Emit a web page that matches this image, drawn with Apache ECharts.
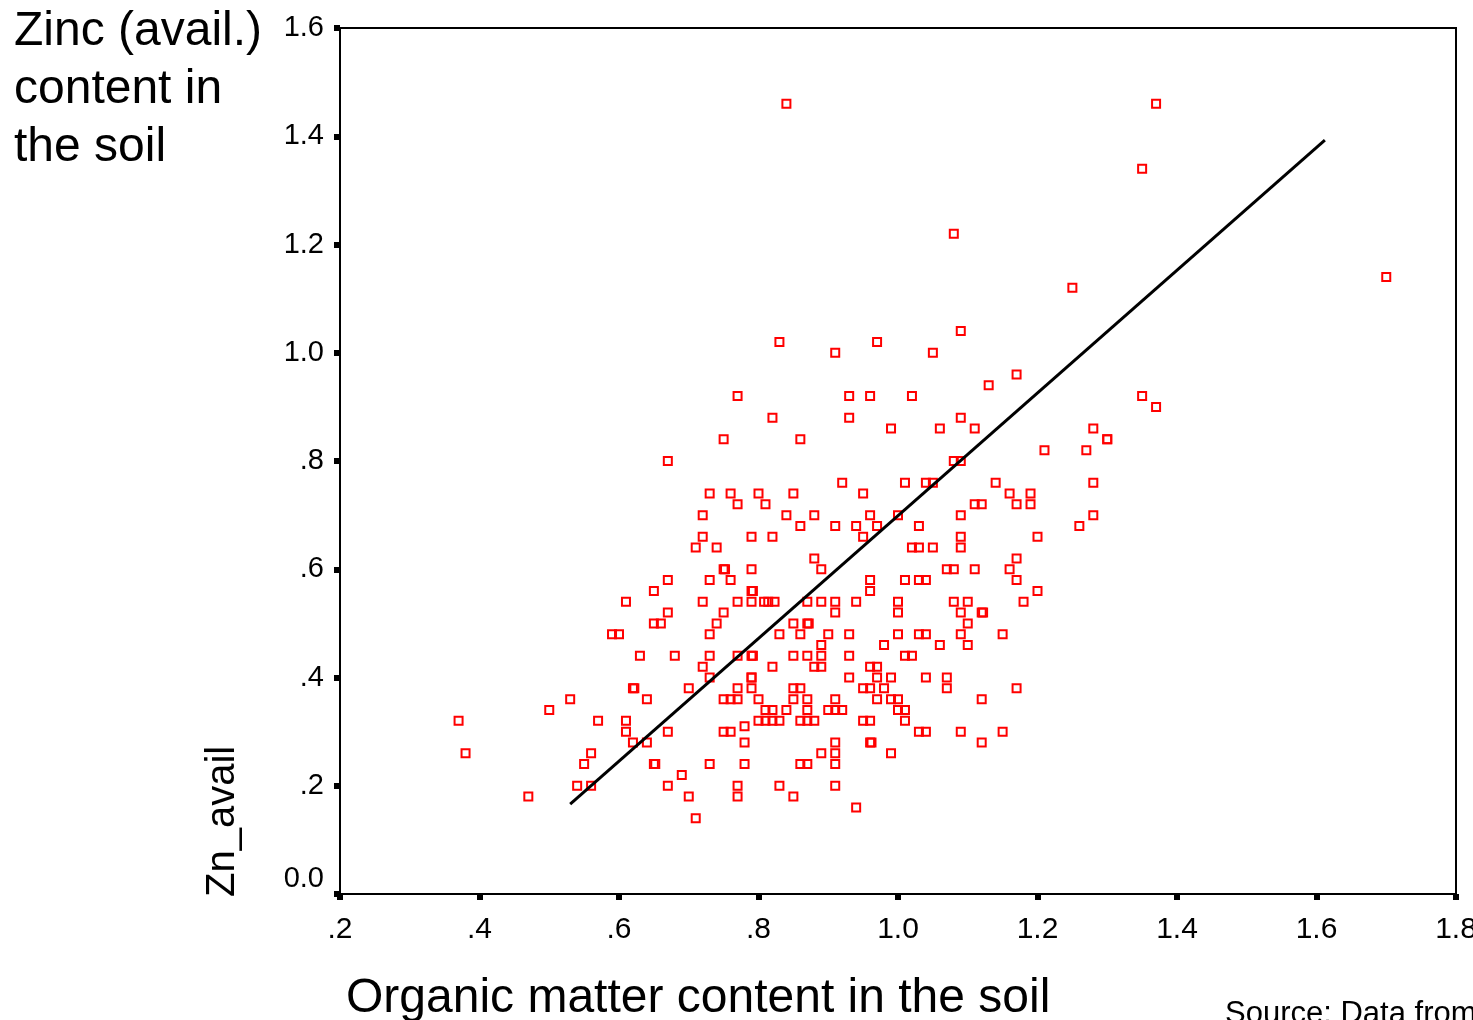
<!DOCTYPE html>
<html>
<head>
<meta charset="utf-8">
<title>Zinc vs organic matter</title>
<script src="https://cdn.jsdelivr.net/npm/echarts@6/dist/echarts.min.js"></script>
<style>
  html, body { margin: 0; padding: 0; background: #fff; overflow: hidden; }
  #chart { width: 1473px; height: 1020px; }
</style>
</head>
<body>
<div id="chart"></div>
<script>
// Zn_avail level -> organic matter values of the points on that level
const znLevels = [
  1.46, 1.34, 1.22, 1.14, 1.12, 1.04, 1.02, 1.00, 0.96, 0.94, 0.92, 0.90, 0.88, 0.86, 0.84, 0.82, 0.80,
  0.76, 0.74, 0.72, 0.70, 0.68, 0.66, 0.64, 0.62, 0.60, 0.58, 0.56, 0.54, 0.52, 0.50, 0.48, 0.46,
  0.44, 0.42, 0.40, 0.38, 0.36, 0.34, 0.32, 0.31, 0.30, 0.28, 0.26, 0.24, 0.22, 0.20, 0.18, 0.16, 0.14
]
const omByLevel = [
  [0.84, 1.37],
  [1.35],
  [1.08],
  [1.70],
  [1.25],
  [1.09],
  [0.83, 0.97],
  [0.91, 1.05],
  [1.17],
  [1.13],
  [0.77, 0.93, 0.96, 1.02, 1.35],
  [1.37],
  [0.82, 0.93, 1.09],
  [0.99, 1.06, 1.11, 1.28],
  [0.75, 0.86, 1.30, 1.30],
  [1.21, 1.27],
  [0.67, 1.08, 1.09],
  [0.92, 1.01, 1.04, 1.05, 1.14, 1.28],
  [0.73, 0.76, 0.80, 0.85, 0.95, 1.16, 1.19],
  [0.77, 0.81, 1.11, 1.12, 1.17, 1.19],
  [0.72, 0.84, 0.88, 0.96, 1.00, 1.09, 1.28],
  [0.86, 0.91, 0.94, 0.97, 1.03, 1.26],
  [0.72, 0.79, 0.82, 0.95, 1.09, 1.20],
  [0.71, 0.74, 1.02, 1.03, 1.05, 1.09],
  [0.88, 1.17],
  [0.75, 0.752, 0.79, 0.89, 1.07, 1.08, 1.11, 1.16],
  [0.67, 0.73, 0.76, 0.96, 1.01, 1.03, 1.04, 1.17],
  [0.65, 0.79, 0.792, 0.96, 1.20],
  [0.61, 0.72, 0.77, 0.79, 0.808, 0.814, 0.823, 0.87, 0.89, 0.91, 0.94, 1.00, 1.08, 1.10, 1.18],
  [0.67, 0.75, 0.91, 1.00, 1.09, 1.12, 1.122],
  [0.65, 0.66, 0.74, 0.85, 0.87, 0.872, 1.10],
  [0.59, 0.60, 0.73, 0.83, 0.86, 0.90, 0.93, 1.00, 1.03, 1.04, 1.09, 1.15],
  [0.89, 0.98, 1.06, 1.10],
  [0.63, 0.68, 0.73, 0.77, 0.79, 0.792, 0.85, 0.87, 0.89, 0.93, 1.01, 1.02],
  [0.72, 0.82, 0.88, 0.89, 0.96, 0.97],
  [0.73, 0.79, 0.79, 0.93, 0.97, 0.99, 1.04, 1.07],
  [0.62, 0.622, 0.70, 0.77, 0.79, 0.85, 0.86, 0.95, 0.96, 0.98, 1.07, 1.17],
  [0.53, 0.64, 0.75, 0.76, 0.77, 0.80, 0.85, 0.87, 0.91, 0.97, 0.99, 1.00, 1.12],
  [0.50, 0.81, 0.82, 0.84, 0.87, 0.90, 0.91, 0.92, 1.00, 1.01],
  [0.37, 0.57, 0.61, 0.80, 0.81, 0.82, 0.83, 0.86, 0.87, 0.88, 0.95, 0.96, 1.01],
  [0.78],
  [0.61, 0.67, 0.75, 0.76, 1.03, 1.04, 1.09, 1.15],
  [0.62, 0.64, 0.78, 0.91, 0.96, 0.962, 1.12],
  [0.38, 0.56, 0.89, 0.91, 0.99],
  [0.55, 0.65, 0.652, 0.73, 0.78, 0.86, 0.87, 0.91],
  [0.69],
  [0.54, 0.56, 0.67, 0.77, 0.83, 0.91],
  [0.47, 0.70, 0.77, 0.85],
  [0.94],
  [0.71]
]
// fitted line end points [organic matter, zn]
const fitStart = [0.53, 0.166]
const fitEnd = [1.612, 1.393]

const xTicks = [0.2, 1.8, 0.2] // min, max, step
const yTicks = [0, 1.6, 0.2]

const font = 'Liberation Sans, Arial, Helvetica, sans-serif'

const points = []
znLevels.forEach((zn, i) => {
  omByLevel[i].forEach(om => points.push([om, zn]))
})

const fmt = v => {
  const s = v.toFixed(1)
  return v < 1 ? s.slice(1) : s
}

const chart = echarts.init(document.getElementById('chart'))

const option = {
  backgroundColor: '#fff',
  animation: false,
  grid: {
    left: 340,
    top: 28,
    right: 17,
    bottom: 126,
    outerBoundsMode: 'none',
    containLabel: false,
    show: true,
    borderColor: '#000',
    borderWidth: 2,
  },
  xAxis: {
    type: 'value',
    min: xTicks[0],
    max: xTicks[1],
    interval: xTicks[2],
    splitLine: { show: false },
    axisLine: { show: true, lineStyle: { color: '#000', width: 2 } },
    axisTick: { show: true, length: 6, lineStyle: { color: '#000', width: 6 } },
    axisLabel: {
      color: '#000',
      fontFamily: font,
      fontSize: 30,
      margin: 21,
      hideOverlap: false,
      formatter: fmt,
    },
  },
  yAxis: {
    type: 'value',
    min: yTicks[0],
    max: yTicks[1],
    interval: yTicks[2],
    splitLine: { show: false },
    axisLine: { show: true, lineStyle: { color: '#000', width: 2 } },
    axisTick: { show: true, length: 6, lineStyle: { color: '#000', width: 6 } },
    axisLabel: {
      color: '#000',
      fontFamily: font,
      fontSize: 29,
      margin: 16,
      formatter: v => (v === 0 ? '{z|0.0}' : fmt(v)),
      rich: {
        z: { fontFamily: font, fontSize: 29, color: '#000', padding: [0, 0, 30, 0] },
      },
    },
  },
  graphic: [
    {
      type: 'text',
      left: 14,
      top: 3,
      style: {
        text: 'Zinc (avail.)\ncontent in\nthe soil',
        font: '48px ' + font,
        lineHeight: 58,
        fill: '#000',
      },
    },
    {
      type: 'text',
      x: 223,
      y: 897,
      rotation: Math.PI / 2,
      style: {
        text: 'Zn_avail',
        font: '40px ' + font,
        align: 'left',
        verticalAlign: 'middle',
        fill: '#000',
      },
    },
    {
      type: 'text',
      left: 346,
      top: 975,
      style: {
        text: 'Organic matter content in the soil',
        font: '48px ' + font,
        fill: '#000',
      },
    },
    {
      type: 'text',
      left: 1225,
      top: 999,
      style: {
        text: 'Source: Data from',
        font: '31px ' + font,
        fill: '#000',
      },
    },
  ],
  series: [
    {
      type: 'scatter',
      data: points,
      symbol: 'rect',
      symbolSize: 8,
      silent: true,
      itemStyle: {
        color: 'rgba(0,0,0,0)',
        borderColor: '#ff0000',
        borderWidth: 2,
        opacity: 1,
      },
      z: 2,
    },
    {
      type: 'line',
      data: [fitStart, fitEnd],
      symbol: 'none',
      silent: true,
      lineStyle: { color: '#000', width: 3 },
      z: 3,
    },
  ],
}

chart.setOption(option)
</script>
</body>
</html>
